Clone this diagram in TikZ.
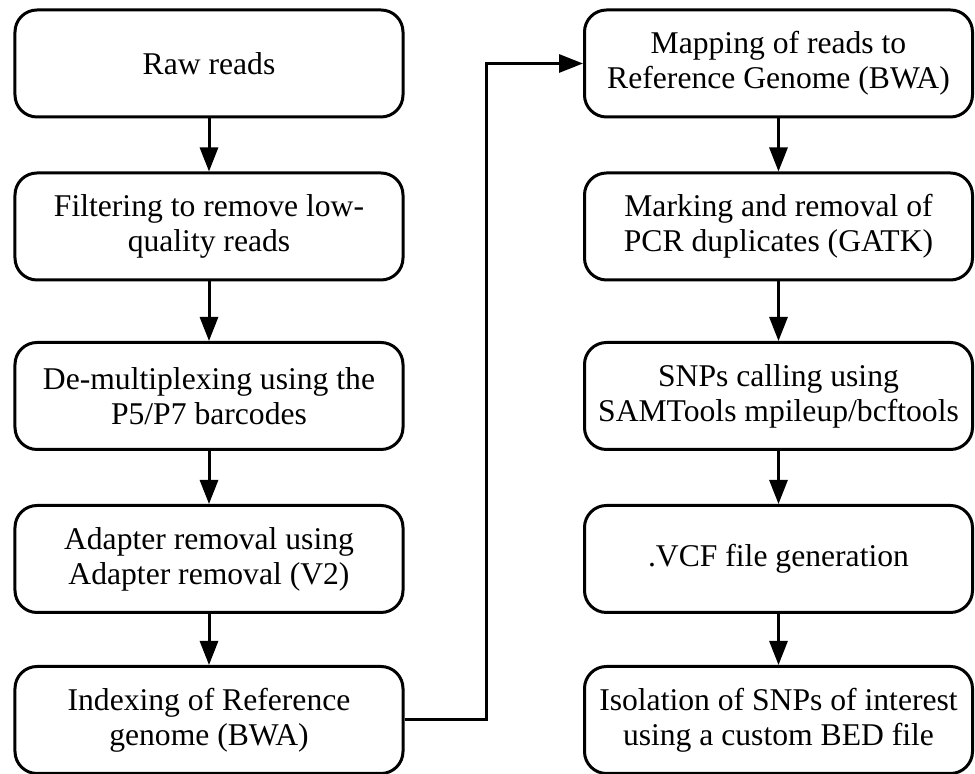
\documentclass[tikz,border=0pt]{standalone}
\usepackage{fontspec}
\setmainfont{Liberation Serif}
\usetikzlibrary{arrows.meta}
\tikzset{
  stepbox/.style={draw,rounded corners=0.44cm,line width=0.06cm,
    minimum width=7.76cm,minimum height=2.14cm,align=center,
    font=\fontsize{18}{20}\selectfont},
  flow/.style={line width=0.06cm,-{Triangle[length=0.48cm,width=0.36cm]}}
}
\begin{document}
\begin{tikzpicture}
\useasboundingbox (0,0) rectangle (19.5,15.48);
% left column
\node[stepbox] (raw) at (4.18,14.21) {Raw reads};
\node[stepbox] (filt) at (4.18,10.95) {Filtering to remove low-\\quality reads};
\node[stepbox] (demux) at (4.18,7.56) {De-multiplexing using the\\P5/P7 barcodes};
\node[stepbox] (adapt) at (4.18,4.30) {Adapter removal using\\Adapter removal (V2)};
\node[stepbox] (idx) at (4.18,1.08) {Indexing of Reference\\genome (BWA)};
% right column
\node[stepbox] (map) at (15.57,14.21) {Mapping of reads to\\Reference Genome (BWA)};
\node[stepbox] (dup) at (15.57,10.95) {Marking and removal of\\PCR duplicates (GATK)};
\node[stepbox] (snp) at (15.57,7.56) {SNPs calling using\\SAMTools mpileup/bcftools};
\node[stepbox] (vcf) at (15.57,4.30) {.VCF file generation};
\node[stepbox] (iso) at (15.57,1.08) {Isolation of SNPs of interest\\using a custom BED file};
\coordinate (bend) at (9.72,7.5);
\draw[flow] (raw) -- (filt);
\draw[flow] (filt) -- (demux);
\draw[flow] (demux) -- (adapt);
\draw[flow] (adapt) -- (idx);
\draw[flow] (idx.east) -| (bend) |- (map.west);
\draw[flow] (map) -- (dup);
\draw[flow] (dup) -- (snp);
\draw[flow] (snp) -- (vcf);
\draw[flow] (vcf) -- (iso);
\end{tikzpicture}
\end{document}
